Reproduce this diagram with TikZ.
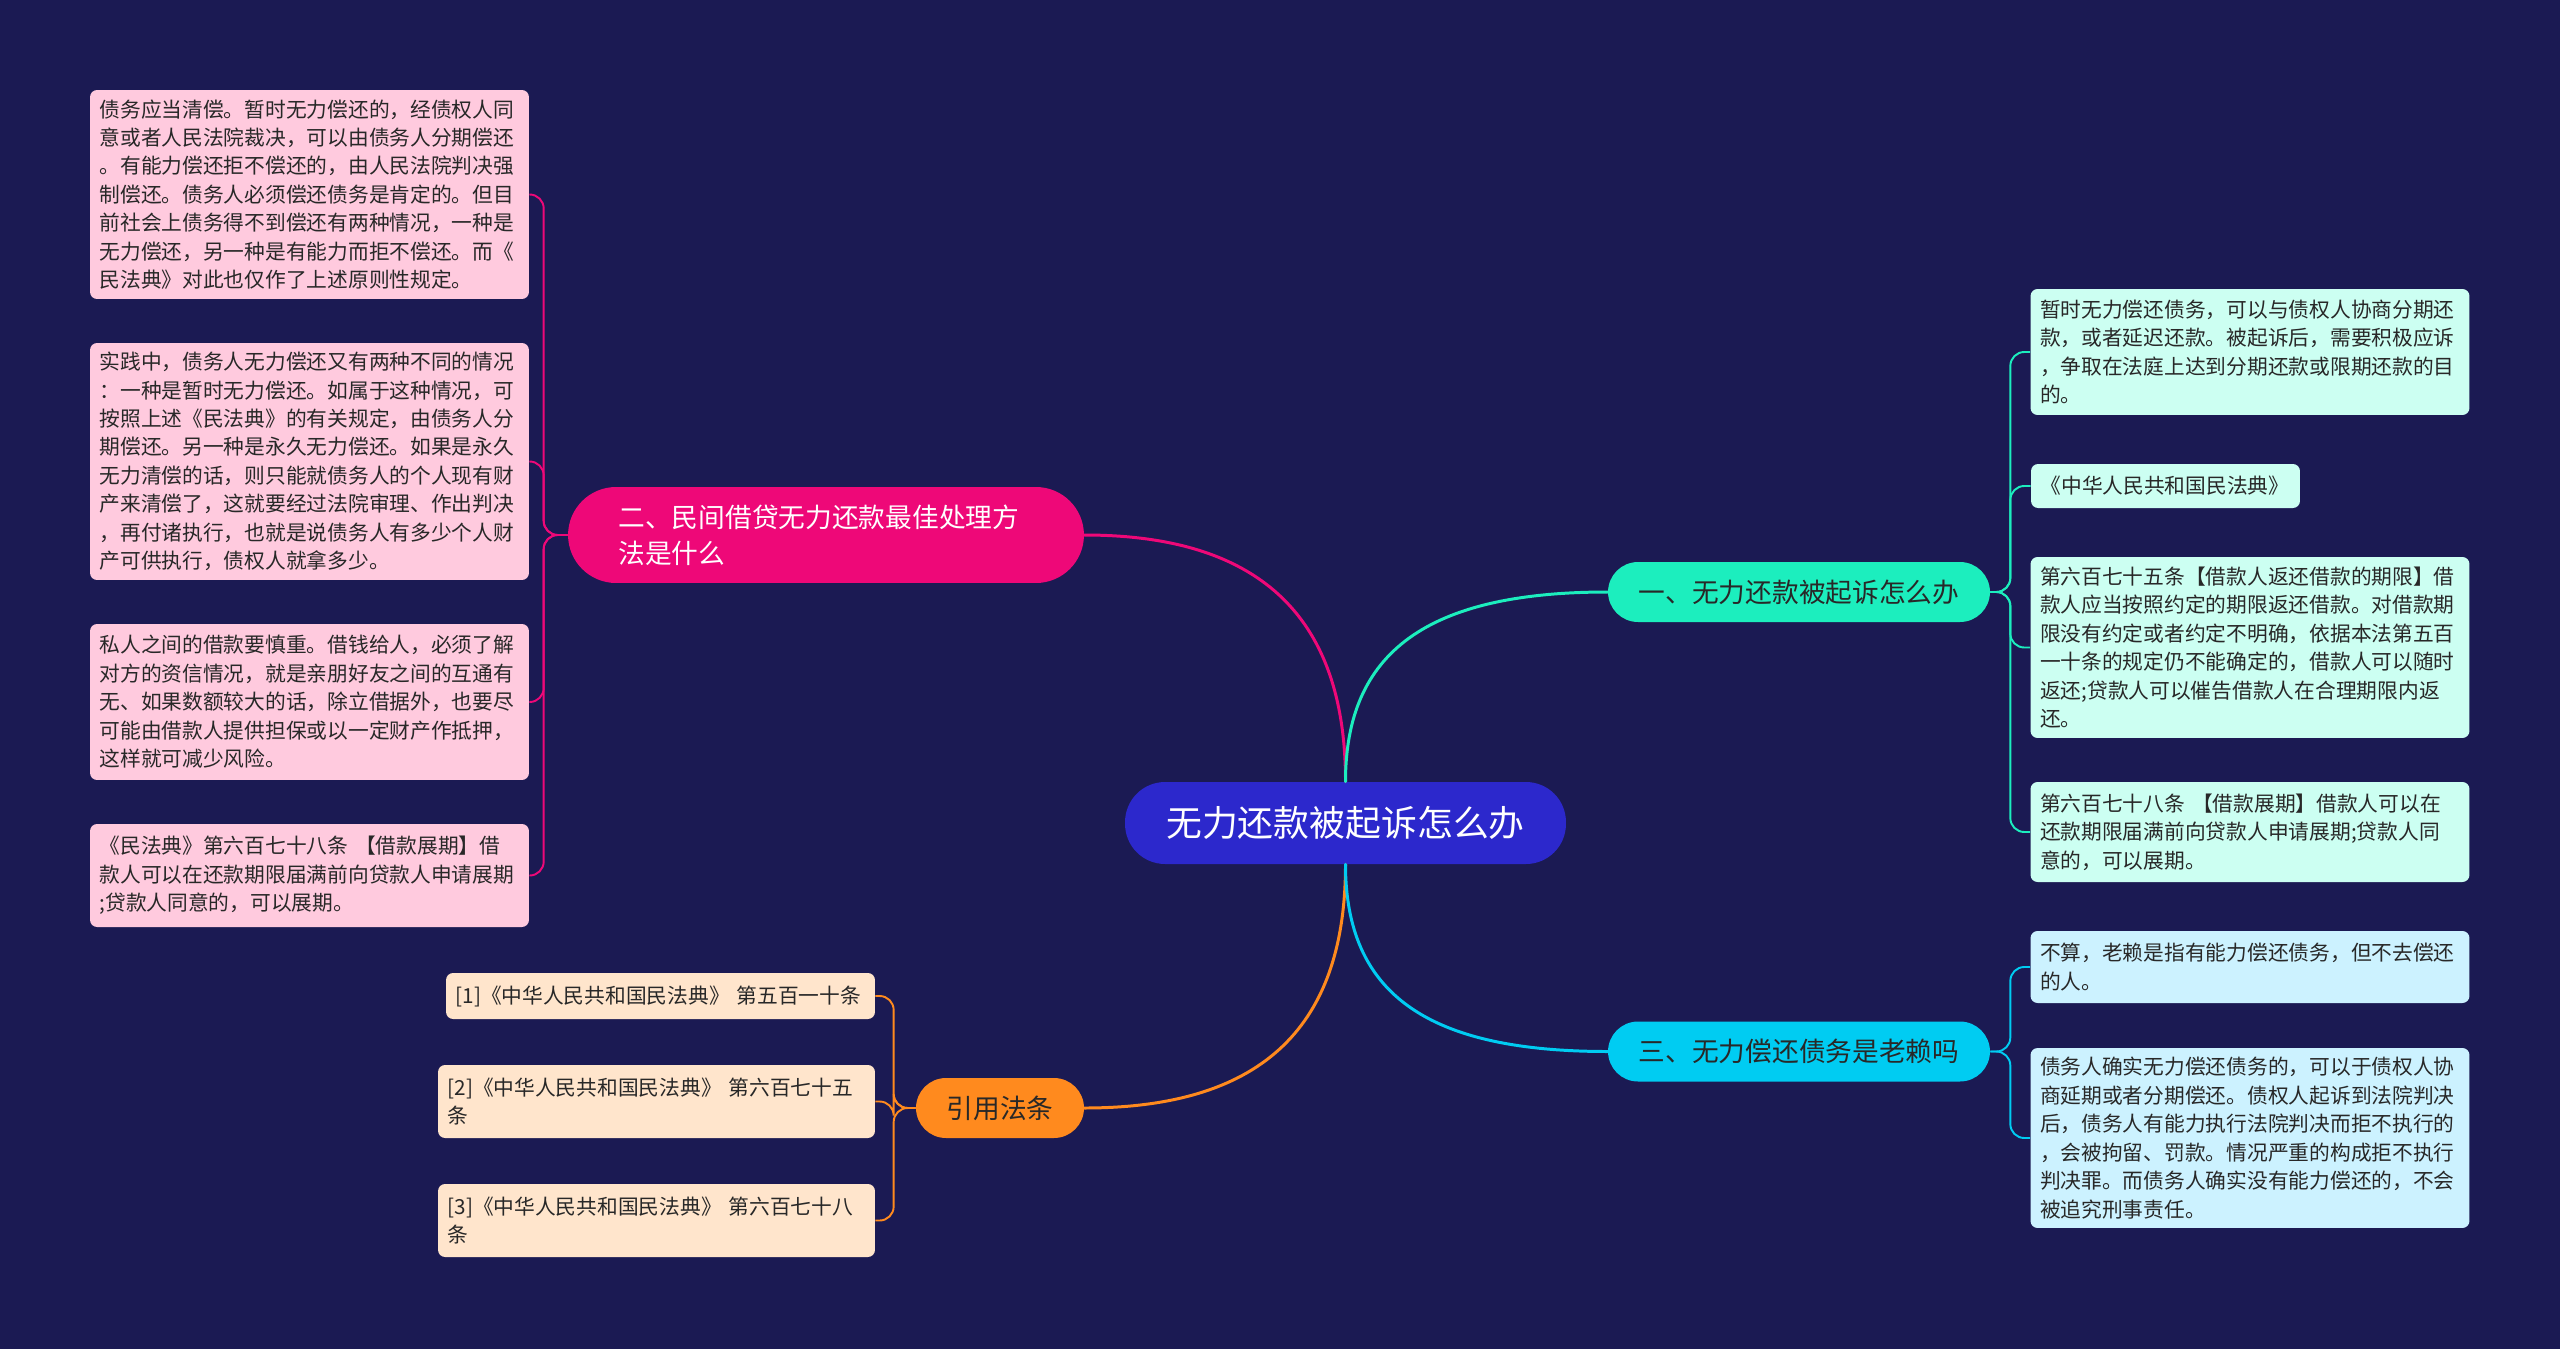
\documentclass[tikz,border=0pt]{standalone}
\usepackage{fontspec}
\newfontfamily\cjkfont{Noto Sans CJK SC}
\usepackage{xcolor}
\definecolor{hintergrund}{RGB}{27, 26, 83}
\definecolor{wurzelblau}{RGB}{44, 40, 204}
\definecolor{tuerkis}{RGB}{28, 238, 190}
\definecolor{cyanblau}{RGB}{0, 204, 242}
\definecolor{magenta}{RGB}{238, 8, 120}
\definecolor{orange}{RGB}{255, 138, 30}
\definecolor{rosablatt}{RGB}{255, 202, 222}
\definecolor{tuerkisblatt}{RGB}{204, 255, 242}
\definecolor{cyanblatt}{RGB}{204, 242, 255}
\definecolor{pfirsichblatt}{RGB}{255, 229, 204}
\definecolor{textdunkel}{RGB}{40, 40, 40}

\begin{document}
\begin{tikzpicture}[x=0.02cm, y=-0.02cm,
    blatt/.style={rounded corners=4pt, align=left, text=textdunkel, inner xsep=0.19cm, inner ysep=0pt,
        text width=8.4cm, font=\cjkfont\fontsize{11.8}{16.2}\selectfont},
    ast/.style={rounded corners=0.6cm, minimum width=7.64cm, minimum height=1.2cm, inner sep=0pt,
        font=\cjkfont\fontsize{15.2}{20.4}\selectfont},
    linie/.style={line width=1.7pt, line cap=round},
    zweig/.style={line width=1.1pt, rounded corners=0.28cm}
]
    % Hintergrund und Rahmen (2560 x 1349 px)
    \fill[hintergrund] (0,0) rectangle (2560,1349);
    \useasboundingbox (0,0) rectangle (2560,1349);

    % ==========================================
    % ZENTRUM UND HAUPTAESTE
    % ==========================================
    \node[fill=wurzelblau, text=white, rounded corners=0.8cm, minimum width=8.82cm, minimum height=1.64cm,
        font=\cjkfont\fontsize{20.4}{24}\selectfont] (wurzel) at (1345.5,823) {无力还款被起诉怎么办};

    \node[ast, fill=tuerkis, text=textdunkel] (ast1) at (1799,592) {一、无力还款被起诉怎么办};
    \node[ast, fill=cyanblau, text=textdunkel] (ast3) at (1799,1051.5) {三、无力偿还债务是老赖吗};
    \node[ast, fill=magenta, text=white, rounded corners=0.96cm, minimum width=10.32cm, minimum height=1.92cm,
        text width=8.3cm, align=left] (ast2) at (826,535) {二、民间借贷无力还款最佳处理方\\法是什么};
    \node[ast, fill=orange, text=textdunkel, minimum width=3.36cm] (quelle) at (1000,1108) {引用法条};

    % Verbindungen vom Zentrum
    \draw[linie, magenta] (wurzel.north) .. controls +(0,-170) and +(170,0) .. (ast2.east);
    \draw[linie, tuerkis] (wurzel.north) .. controls +(0,-130) and +(-180,0) .. (ast1.west);
    \draw[linie, orange] (wurzel.south) .. controls +(0,170) and +(170,0) .. (quelle.east);
    \draw[linie, cyanblau] (wurzel.south) .. controls +(0,130) and +(-180,0) .. (ast3.west);

    % ==========================================
    % LINKER BEREICH: BLAETTER VON AST 2
    % ==========================================
    \node[blatt, fill=rosablatt, minimum height=4.18cm] (l1) at (309.5,194.5)
        {债务应当清偿。暂时无力偿还的，经债权人同\\意或者人民法院裁决，可以由债务人分期偿还\\。有能力偿还拒不偿还的，由人民法院判决强\\制偿还。债务人必须偿还债务是肯定的。但目\\前社会上债务得不到偿还有两种情况，一种是\\无力偿还，另一种是有能力而拒不偿还。而《\\民法典》对此也仅作了上述原则性规定。};
    \node[blatt, fill=rosablatt, minimum height=4.74cm] (l2) at (309.5,461.5)
        {实践中，债务人无力偿还又有两种不同的情况\\：一种是暂时无力偿还。如属于这种情况，可\\按照上述《民法典》的有关规定，由债务人分\\期偿还。另一种是永久无力偿还。如果是永久\\无力清偿的话，则只能就债务人的个人现有财\\产来清偿了，这就要经过法院审理、作出判决\\，再付诸执行，也就是说债务人有多少个人财\\产可供执行，债权人就拿多少。};
    \node[blatt, fill=rosablatt, minimum height=3.12cm] (l3) at (309.5,702)
        {私人之间的借款要慎重。借钱给人，必须了解\\对方的资信情况，就是亲朋好友之间的互通有\\无、如果数额较大的话，除立借据外，也要尽\\可能由借款人提供担保或以一定财产作抵押，\\这样就可减少风险。};
    \node[blatt, fill=rosablatt, minimum height=2.06cm] (l4) at (309.5,875.5)
        {《民法典》第六百七十八条 【借款展期】借\\款人可以在还款期限届满前向贷款人申请展期\\;贷款人同意的，可以展期。};

    \foreach \b in {l1,l2,l3,l4}
        \draw[zweig, magenta] (ast2.west) -- ++(-24,0) |- (\b.east);

    % ==========================================
    % UNTEN LINKS: QUELLEN
    % ==========================================
    \node[blatt, fill=pfirsichblatt, text width=8.2cm, minimum height=0.92cm] (f1) at (660.5,996)
        {[1]《中华人民共和国民法典》 第五百一十条};
    \node[blatt, fill=pfirsichblatt, text width=8.36cm, minimum height=1.46cm] (f2) at (656.5,1101.5)
        {[2]《中华人民共和国民法典》 第六百七十五\\条};
    \node[blatt, fill=pfirsichblatt, text width=8.36cm, minimum height=1.46cm] (f3) at (656.5,1220.5)
        {[3]《中华人民共和国民法典》 第六百七十八\\条};

    \foreach \b in {f1,f2,f3}
        \draw[zweig, orange] (quelle.west) -- ++(-22,0) |- (\b.east);

    % ==========================================
    % RECHTER BEREICH: BLAETTER VON AST 1 UND 3
    % ==========================================
    \node[blatt, fill=tuerkisblatt, minimum height=2.52cm] (r1) at (2250,352)
        {暂时无力偿还债务，可以与债权人协商分期还\\款，或者延迟还款。被起诉后，需要积极应诉\\，争取在法庭上达到分期还款或限期还款的目\\的。};
    \node[blatt, fill=tuerkisblatt, text width=5.0cm, minimum height=0.88cm] (r2) at (2165.5,486)
        {《中华人民共和国民法典》};
    \node[blatt, fill=tuerkisblatt, minimum height=3.62cm] (r3) at (2250,647.5)
        {第六百七十五条【借款人返还借款的期限】借\\款人应当按照约定的期限返还借款。对借款期\\限没有约定或者约定不明确，依据本法第五百\\一十条的规定仍不能确定的，借款人可以随时\\返还;贷款人可以催告借款人在合理期限内返\\还。};
    \node[blatt, fill=tuerkisblatt, minimum height=2.0cm] (r4) at (2250,832)
        {第六百七十八条 【借款展期】借款人可以在\\还款期限届满前向贷款人申请展期;贷款人同\\意的，可以展期。};

    \foreach \b in {r1,r2,r3,r4}
        \draw[zweig, tuerkis] (ast1.east) -- ++(20,0) |- (\b.west);

    \node[blatt, fill=cyanblatt, minimum height=1.44cm] (r5) at (2250,967)
        {不算，老赖是指有能力偿还债务，但不去偿还\\的人。};
    \node[blatt, fill=cyanblatt, minimum height=3.6cm] (r6) at (2250,1138)
        {债务人确实无力偿还债务的，可以于债权人协\\商延期或者分期偿还。债权人起诉到法院判决\\后，债务人有能力执行法院判决而拒不执行的\\，会被拘留、罚款。情况严重的构成拒不执行\\判决罪。而债务人确实没有能力偿还的，不会\\被追究刑事责任。};

    \foreach \b in {r5,r6}
        \draw[zweig, cyanblau] (ast3.east) -- ++(20,0) |- (\b.west);

\end{tikzpicture}
\end{document}
